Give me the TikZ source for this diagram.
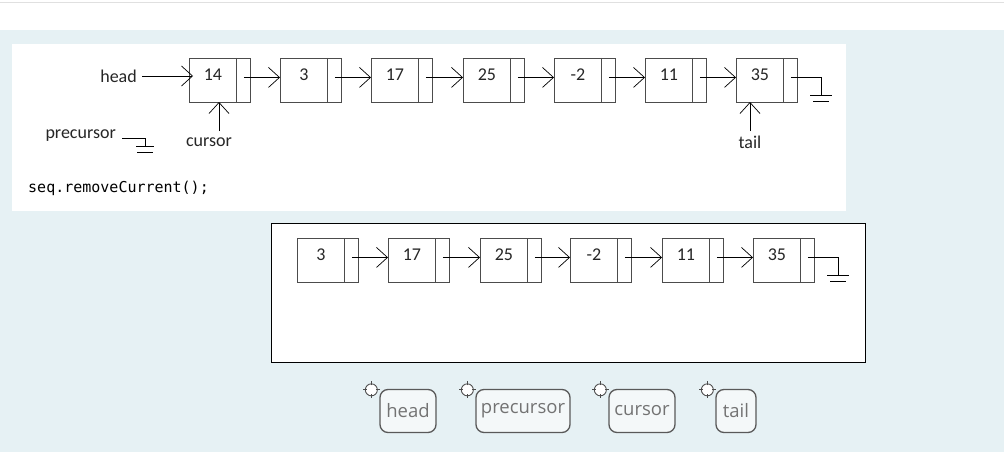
\documentclass[tikz,border=0pt]{standalone}
\usepackage{fontspec}
\setmainfont{Carlito}
\setmonofont{DejaVu Sans Mono}
\newfontfamily\btnfont{Open Sans}
\usetikzlibrary{arrows.meta}
\definecolor{bgblue}{HTML}{E6F1F4}
\definecolor{btnfill}{HTML}{F4F8F9}
\tikzset{
  cell/.style={draw=black!70, line width=0.9pt, minimum width=61pt, minimum height=44pt, inner sep=0pt},
  ptr/.style={line width=0.7pt, -{Straight Barb[length=11pt,width=20pt,line width=0.7pt]}},
  lbl/.style={font=\fontsize{18}{20}\selectfont, inner sep=1pt, text=black!85},
  val/.style={font=\fontsize{18}{20}\selectfont, text=black!85},
  btn/.style={draw=black!65, line width=1.3pt, rounded corners=8pt, fill=btnfill, minimum height=43pt, inner xsep=3pt, font=\btnfont\fontsize{18.5}{20}\selectfont, text=black!55},
  handle/.style={draw=black!70, line width=0.9pt, circle, minimum size=12pt, inner sep=0pt, fill=white}
}
\newcommand{\cellnode}[4]{% name, x, ytop, value
  \node[cell, anchor=north west] (#1) at (#2,#3) {};
  \draw[black!70, line width=0.9pt] ([xshift=-14pt]#1.north east) -- ([xshift=-14pt]#1.south east);
  \node[val] at ([xshift=-7pt,yshift=6pt]#1.center) {#4};
  \coordinate (#1p) at ([xshift=-7pt,yshift=3pt]#1.east);
}
\begin{document}
\begin{tikzpicture}[x=1pt,y=-1pt]
\useasboundingbox (0,0) rectangle (1004,452);
\fill[white] (0,0) rectangle (1004,30);
\draw[black!12] (0,2) -- (1004,2);
\fill[bgblue] (0,30) rectangle (1004,452);
% top panel
\fill[white] (12,44) rectangle (846,211);
\cellnode{a}{189}{58}{14}
\cellnode{b}{280}{58}{3}
\cellnode{c}{371}{58}{17}
\cellnode{d}{463}{58}{25}
\cellnode{e}{554}{58}{-2}
\cellnode{f}{645}{58}{11}
\cellnode{g}{736}{58}{35}
\foreach \s/\t in {a/b,b/c,c/d,d/e,e/f,f/g} \draw[ptr] (\s p) -- (\s p -| \t.west);
\coordinate (gn) at (821,95);
\draw[line width=0.7pt] (gp) -- (gp -| gn) -- (gn);
\draw[line width=0.7pt] (810,95) -- (832,95);
\draw[line width=0.7pt] (813,101) -- (829,101);
\node[lbl, anchor=east] (head) at (138,76) {head};
\draw[ptr] ([xshift=4pt]head.east) -- ([xshift=4pt]head.east -| a.west);
\node[lbl] (cursor) at (209,142) {cursor};
\draw[ptr] (219,131) -- (219,102);
\node[lbl] (tail) at (750,142) {tail};
\draw[ptr] (750,131) -- (750,102);
\node[lbl, anchor=east] (prec) at (117,136) {precursor};
\draw[line width=0.7pt] (122,138) -- (145,138) -- (145,146);
\draw[line width=0.7pt] (136,146) -- (154,146);
\draw[line width=0.7pt] (137,152) -- (153,152);
\node[anchor=west, font=\ttfamily\fontsize{15}{17}\selectfont, inner sep=0pt] (code) at (28,188) {seq.removeCurrent();};
% bottom panel
\draw[fill=white, line width=0.8pt] (271,223) rectangle (865,362);
\cellnode{p}{297}{238}{3}
\cellnode{q}{388}{238}{17}
\cellnode{r}{480}{238}{25}
\cellnode{s}{570}{238}{-2}
\cellnode{t}{662}{238}{11}
\cellnode{u}{753}{238}{35}
\foreach \s/\t in {p/q,q/r,r/s,s/t,t/u} \draw[ptr] (\s p) -- (\s p -| \t.west);
\coordinate (un) at (838,275);
\draw[line width=0.7pt] (up) -- (up -| un) -- (un);
\draw[line width=0.7pt] (827,275) -- (849,275);
\draw[line width=0.7pt] (830,281) -- (846,281);
% buttons
\node[btn, minimum width=56pt] (b1) at (408,411) {head};
\node[btn, minimum width=94pt] (b2) at (523,411) {precursor};
\node[btn, minimum width=66pt] (b3) at (642,411) {cursor};
\node[btn, minimum width=40pt] (b4) at (736,411) {tail};
\foreach \b in {b1,b2,b3,b4} {
  \node[handle] (h\b) at ([xshift=-8pt,yshift=-1pt]\b.north west) {};
  \draw[black!70, line width=0.9pt] ([yshift=-2pt]h\b.north) -- ([yshift=2pt]h\b.north) ([yshift=2pt]h\b.south) -- ([yshift=-2pt]h\b.south) ([xshift=-2pt]h\b.east) -- ([xshift=2pt]h\b.east) ([xshift=2pt]h\b.west) -- ([xshift=-2pt]h\b.west);
}
\end{tikzpicture}
\end{document}
